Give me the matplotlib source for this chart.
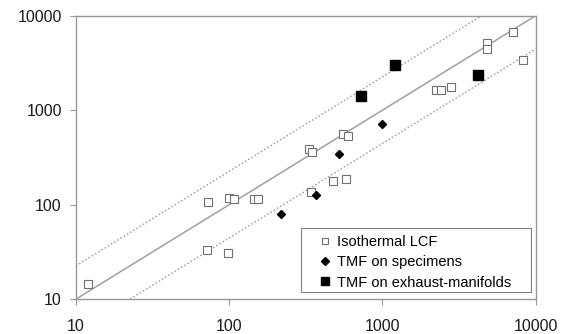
import matplotlib
matplotlib.use("Agg")
import matplotlib.pyplot as plt
from matplotlib.patches import Rectangle
import numpy as np

plt.rcParams['font.family'] = ['Liberation Sans', 'DejaVu Sans']

# Isothermal LCF (x, y)
lcf_x = [12, 73, 72, 100, 107, 99, 145, 155, 330, 345, 350, 475, 555, 580, 600,
         2250, 2400, 2800, 4800, 4800, 7100, 8300]
lcf_y = [14.5, 107, 33, 118, 116, 31, 115, 115, 385, 135, 360, 178, 555, 188, 530,
         1650, 1650, 1750, 5100, 4400, 6700, 3400]
# TMF on specimens
spec_x = [217, 370, 525, 1000]
spec_y = [80, 128, 345, 720]
# TMF on exhaust-manifolds
man_x = [730, 1210, 4200]
man_y = [1400, 3000, 2350]

scatter_factor = 2.25
line_range = [10, 10000]

W, H = 568, 334
fig = plt.figure(figsize=(W / 100, H / 100), dpi=100)
ax = fig.add_axes([0.1333, 0.1039, 0.8098, 0.8491])
ax.set_xscale('log')
ax.set_yscale('log')
ax.set_xlim(10, 10000)
ax.set_ylim(10, 10000)

lc = '#a0a0a0'
xr = np.array(line_range, dtype=float)
ax.plot(xr, xr, color=lc, lw=1.1, zorder=1)
ax.plot(xr, xr * scatter_factor, color=lc, lw=1.0, ls=(0, (1.2, 1.5)), zorder=1)
ax.plot(xr, xr / scatter_factor, color=lc, lw=1.0, ls=(0, (1.2, 1.5)), zorder=1)

ax.plot(lcf_x, lcf_y, ls='none', marker='s', ms=5.5, mfc='white', mec='#707070',
        mew=0.8, label='Isothermal LCF', zorder=3)
ax.plot(spec_x, spec_y, ls='none', marker='D', ms=4.5, mfc='black', mec='black',
        label='TMF on specimens', zorder=4)
ax.plot(man_x, man_y, ls='none', marker='s', ms=7, mfc='black', mec='black',
        label='TMF on exhaust-manifolds', zorder=4)

for s in ax.spines.values():
    s.set_color('#999999')
    s.set_linewidth(1.0)

ax.set_xticks([10, 100, 1000, 10000])
ax.set_xticklabels(['10', '100', '1000', '10000'])
ax.set_yticks([10, 100, 1000, 10000])
ax.set_yticklabels(['10', '100', '1000', '10000'])
ax.minorticks_off()
ax.tick_params(axis='both', which='major', direction='out', length=4,
               color='#999999', labelsize=11.5, labelcolor='#1a1a1a')
ax.tick_params(axis='x', pad=10)
ax.tick_params(axis='y', pad=6)

# legend (text placement) + separate frame box
leg = ax.legend(loc='upper left', bbox_to_anchor=(314.8 / W, 1 - 229.5 / H),
                bbox_transform=fig.transFigure, borderaxespad=0,
                fontsize=10.5, frameon=False,
                handlelength=0.6, handletextpad=0.5, borderpad=0.4,
                labelspacing=0.42, markerscale=0.8)
frame = Rectangle((300.7 / W, 1 - 291.7 / H), 230 / W, 64 / H,
                  transform=fig.transFigure, fill=True, facecolor='white',
                  edgecolor='#808080', lw=0.8, zorder=5)
ax.add_artist(frame)
frame.set_clip_on(False)
leg.set_zorder(6)

fig.savefig('out.png', dpi=100)
